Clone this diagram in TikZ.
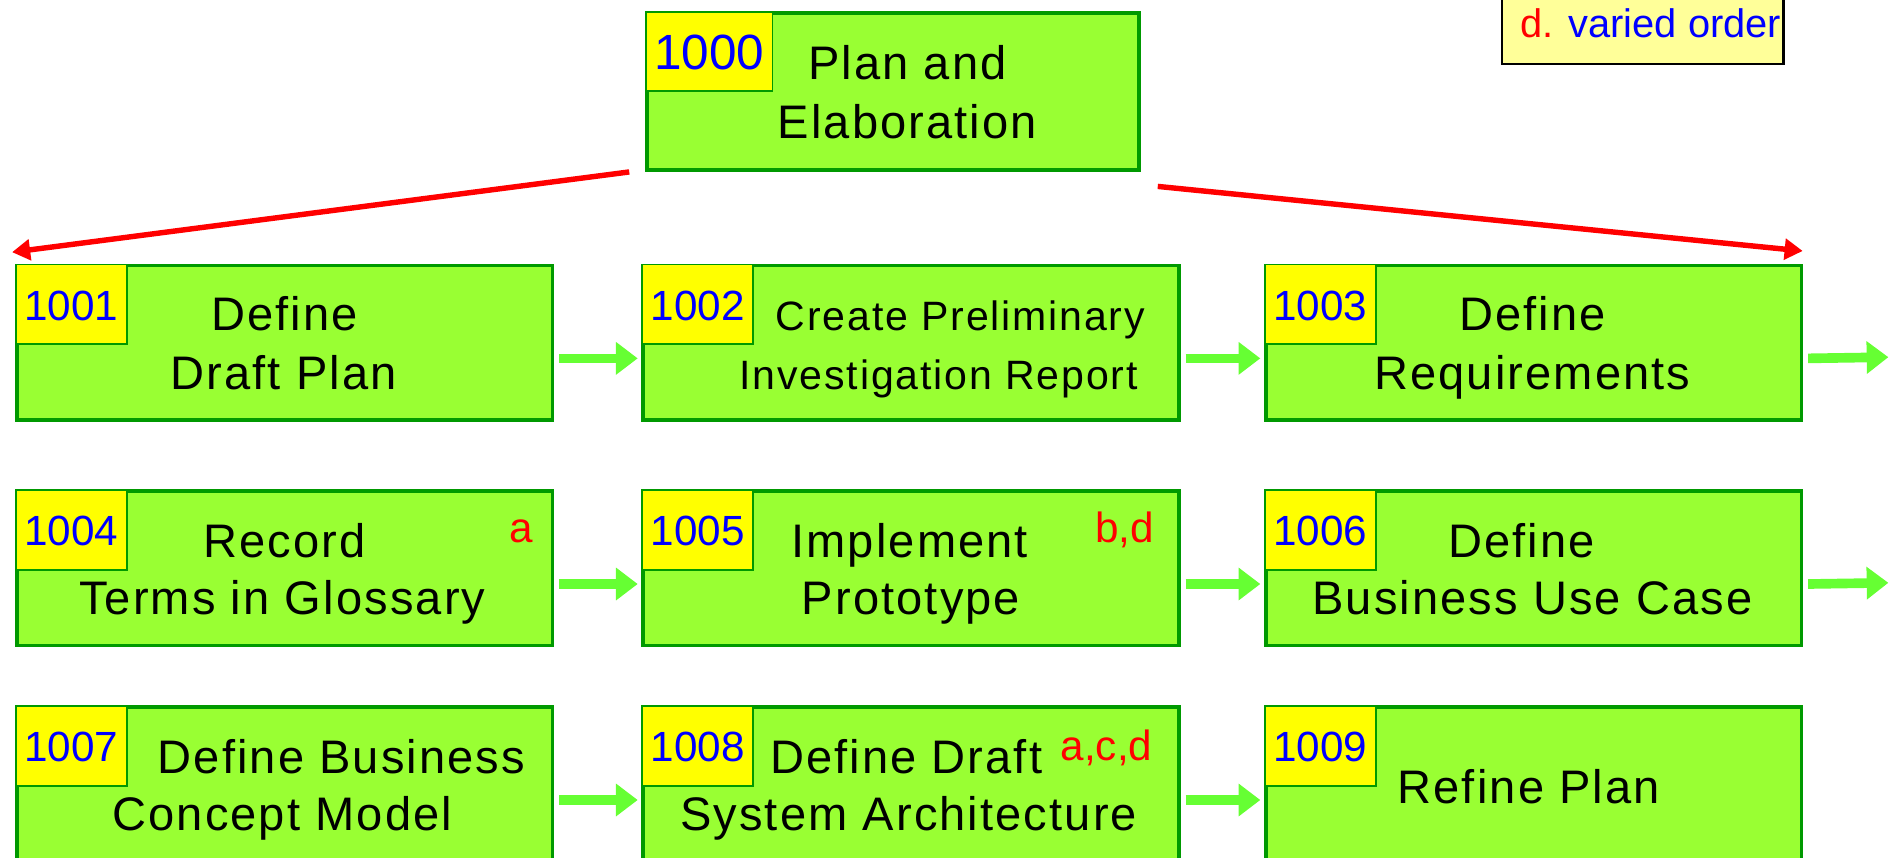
\documentclass[tikz,border=0pt]{standalone}
\usepackage{fontspec}
\setmainfont{Liberation Sans}
\newfontfamily\spacedfont[LetterSpace=4.5]{Liberation Sans}
\usetikzlibrary{arrows.meta}
\definecolor{boxfill}{HTML}{99FF33}
\definecolor{boxline}{HTML}{009900}
\definecolor{tagfill}{HTML}{FFFF00}
\definecolor{flowgreen}{HTML}{66FF33}
\definecolor{notefill}{HTML}{FFFF99}
\begin{document}
\begin{tikzpicture}[x=1pt,y=-1pt,
  task/.style={draw=boxline, line width=3pt, fill=boxfill, minimum width=444pt, minimum height=128pt, anchor=north west, inner sep=0pt},
  tagbox/.style={draw=boxline, line width=1.5pt, fill=tagfill, minimum width=92pt, minimum height=66pt, anchor=north west, inner sep=0pt},
  num/.style={text=blue, font=\fontsize{35}{40}\selectfont, inner sep=0pt},
  lab/.style={font=\spacedfont\fontsize{39}{47}\selectfont, anchor=base, inner sep=0pt},
  smalllab/.style={font=\spacedfont\fontsize{34}{40}\selectfont, anchor=base, inner sep=0pt},
  redmark/.style={text=red, font=\fontsize{35}{40}\selectfont, anchor=base, inner sep=0pt},
  flow/.style={draw=flowgreen, line width=8pt, -{Triangle[length=18pt,width=26pt]}},
  tree/.style={draw=red, line width=4.5pt, -{Triangle[length=15pt,width=17pt]}}
]
\useasboundingbox (0,0) rectangle (1568,711);

% top box
\node[task, minimum width=408pt, minimum height=130pt] (b1000) at (534.5,9.5) {};
\node[tagbox, minimum width=105pt, minimum height=65pt] (t1000) at (534.5,9.5) {};
\node[num, font=\fontsize{41}{46}\selectfont] at ([yshift=-1pt]t1000.center) {1000};
\node[lab] (l1000a) at (752,66) {Plan and};
\node[lab] (l1000b) at (752,115) {Elaboration};

% rows
\foreach \id/\x/\y in {1001/12.5/218.5, 1002/531.5/218.5, 1003/1047.5/218.5,
                       1004/12.5/405.5, 1005/531.5/405.5, 1006/1047.5/405.5,
                       1007/12.5/584.5, 1008/531.5/584.5, 1009/1047.5/584.5}{
  \node[task] (b\id) at (\x,\y) {};
  \node[tagbox] (t\id) at (\x,\y) {};
  \node[num] (n\id) at ([yshift=-1pt]t\id.center) {\id};
}

\node[lab] (l1001a) at (236,274) {Define};
\node[lab] (l1001b) at (235,323) {Draft Plan};
\node[smalllab] (l1002a) at (796,274) {Create Preliminary};
\node[smalllab] (l1002b) at (778,323) {Investigation Report};
\node[lab] (l1003a) at (1270,274) {Define};
\node[lab] (l1003b) at (1270,323) {Requirements};

\node[lab] (l1004a) at (236,462) {Record};
\node[lab] (l1004b) at (234,509) {Terms in Glossary};
\node[lab] (l1005a) at (754,462) {Implement};
\node[lab] (l1005b) at (755,509) {Prototype};
\node[lab] (l1006a) at (1261,462) {Define};
\node[lab] (l1006b) at (1270,509) {Business Use Case};

\node[lab] (l1007a) at (283,641) {Define Business};
\node[lab] (l1007b) at (234,688) {Concept Model};
\node[lab] (l1008a) at (751,641) {Define Draft};
\node[lab] (l1008b) at (753,688) {System Architecture};
\node[lab] (l1009a) at (1267,666) {Refine Plan};

\node[redmark] (m1004) at (432,450) {a};
\node[redmark] (m1005) at (932,450) {b,d};
\node[redmark] (m1008) at (917,630) {a,c,d};

% flow arrows
\coordinate (e1003) at (1565,296);
\coordinate (e1006) at (1565,483);
\draw[flow] ([xshift=4pt,yshift=-13pt]b1001.east) -- ([xshift=-3pt,yshift=-13pt]b1002.west);
\draw[flow] ([xshift=4pt,yshift=-13pt]b1002.east) -- ([xshift=-3pt,yshift=-13pt]b1003.west);
\draw[flow] ([xshift=4pt,yshift=-13pt]b1003.east) -- (e1003);
\draw[flow] ([xshift=4pt,yshift=-13pt]b1004.east) -- ([xshift=-3pt,yshift=-13pt]b1005.west);
\draw[flow] ([xshift=4pt,yshift=-13pt]b1005.east) -- ([xshift=-3pt,yshift=-13pt]b1006.west);
\draw[flow] ([xshift=4pt,yshift=-13pt]b1006.east) -- (e1006);
\draw[flow] ([xshift=4pt,yshift=-13pt]b1007.east) -- ([xshift=-3pt,yshift=-13pt]b1008.west);
\draw[flow] ([xshift=4pt,yshift=-13pt]b1008.east) -- ([xshift=-3pt,yshift=-13pt]b1009.west);

% tree arrows
\coordinate (leftend) at (10,209);
\coordinate (rightend) at (1494,208);
\draw[tree] ([xshift=-13pt]b1000.south west) -- (leftend);
\draw[tree] ([xshift=14pt,yshift=-12pt]b1000.south east) -- (rightend);

% legend
\node[draw=black, line width=2pt, fill=notefill, minimum width=233pt, minimum height=62pt, anchor=north west, inner sep=0pt] (legend) at (1244,-10) {};
\node[font=\fontsize{33}{38}\selectfont, anchor=base west, inner sep=0pt] (legtext) at (1260,31) {\textcolor{red}{d.} \textcolor{blue}{varied order}};
\end{tikzpicture}
\end{document}
